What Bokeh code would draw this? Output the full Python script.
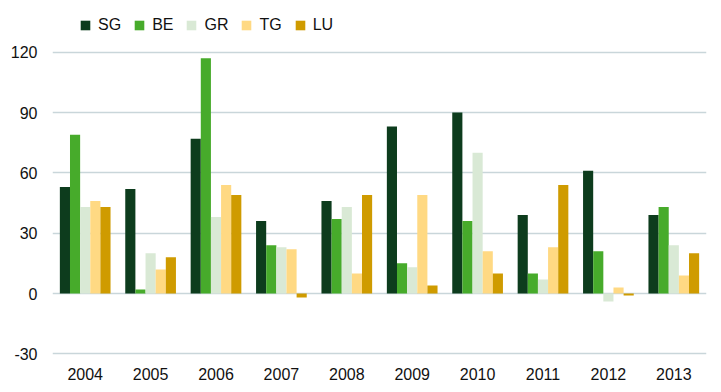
from bokeh.plotting import figure
from bokeh.models import ColumnDataSource, FactorRange, Range1d, Legend, LegendItem, FixedTicker
from bokeh.transform import dodge
from bokeh.embed import file_html
from bokeh.resources import INLINE

years = ["2004", "2005", "2006", "2007", "2008", "2009", "2010", "2011", "2012", "2013"]
series = ["SG", "BE", "GR", "TG", "LU"]
SG = [53, 52, 77, 36, 46, 83, 90, 39, 61, 39]
BE = [79, 2, 117, 24, 37, 15, 36, 10, 21, 43]
GR = [43, 20, 38, 23, 43, 13, 70, 7, -4, 24]
TG = [46, 12, 54, 22, 10, 49, 21, 23, 3, 9]
LU = [43, 18, 49, -2, 49, 4, 10, 54, -1, 20]
yticks = [-30, 0, 30, 60, 90, 120]
colors = ["#0d3c1d", "#47ab2b", "#d9e9d5", "#ffd983", "#cf9b00"]

FONT = "Liberation Sans"
src = ColumnDataSource(dict(year=years, SG=SG, BE=BE, GR=GR, TG=TG, LU=LU))

p = figure(width=721, height=392, x_range=FactorRange(*years, range_padding=0),
           y_range=Range1d(-34.3, 144.7), output_backend="svg", toolbar_location=None,
           min_border_left=52, min_border_right=15, min_border_top=2, min_border_bottom=30)
p.outline_line_color = None
p.background_fill_color = "white"

bw = 0.155
items = []
for i, (s, c) in enumerate(zip(series, colors)):
    r = p.vbar(x=dodge("year", (i - 2) * bw, range=p.x_range), top=s, bottom=0,
               width=bw, source=src, fill_color=c, line_color=None)
    items.append(LegendItem(label=s, renderers=[r]))

p.xgrid.grid_line_color = None
p.ygrid.grid_line_color = "#c9d6da"
p.ygrid.grid_line_width = 1.5
p.yaxis.ticker = FixedTicker(ticks=yticks)
p.yaxis.major_label_overrides = {t: str(t) for t in yticks}

for ax in (p.xaxis[0], p.yaxis[0]):
    ax.axis_line_color = None
    ax.major_tick_line_color = None
    ax.minor_tick_line_color = None
    ax.major_tick_out = 0
    ax.major_tick_in = 0
    ax.minor_tick_out = 0
    ax.major_label_text_font = FONT
    ax.major_label_text_font_size = "16px"
    ax.major_label_text_color = "#111111"
p.yaxis.major_label_standoff = 15
p.xaxis.major_label_standoff = 5

legend = Legend(items=items, orientation="horizontal", location=(27, 328),
                glyph_width=12, glyph_height=12, label_height=12, label_standoff=7,
                spacing=12, padding=0, margin=0, border_line_color=None,
                background_fill_alpha=0, label_text_font=FONT,
                label_text_font_size="16px", label_text_color="#111111")
p.add_layout(legend, "center")

open("out.html", "w").write(file_html(p, INLINE))
